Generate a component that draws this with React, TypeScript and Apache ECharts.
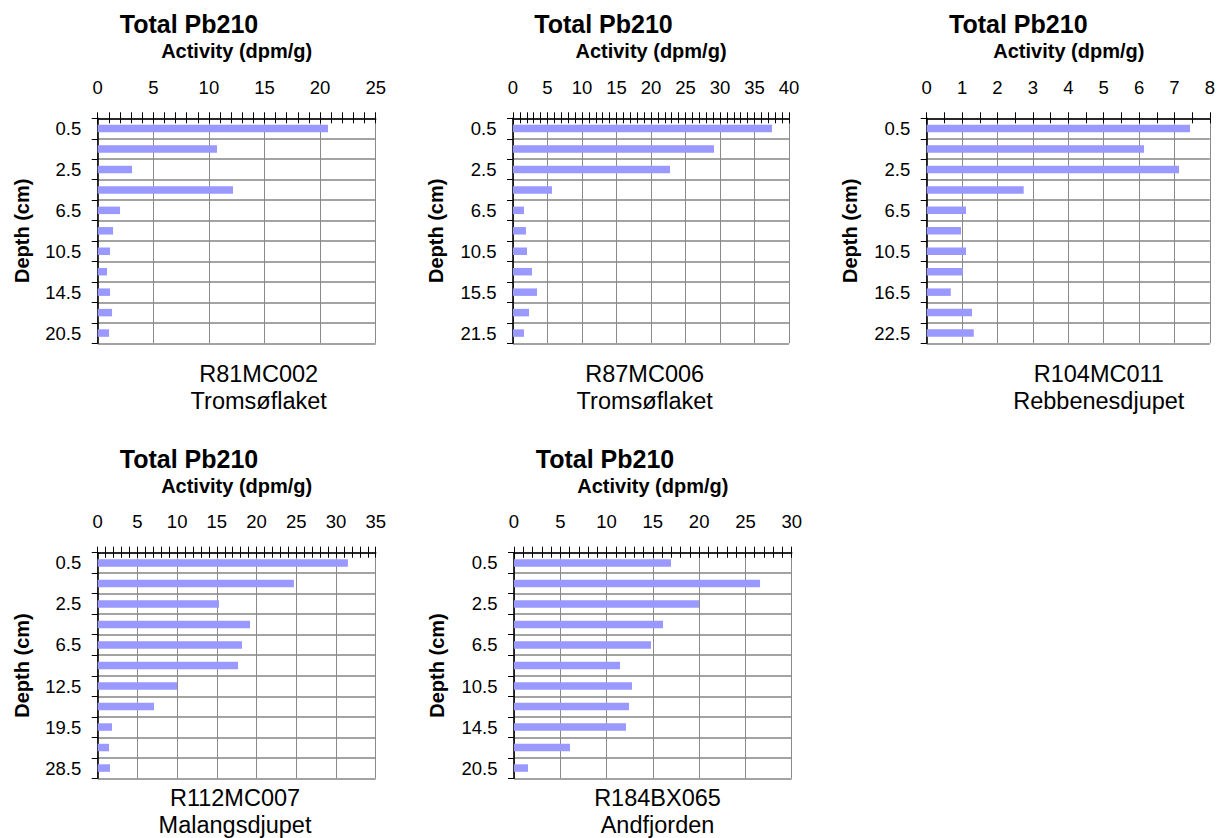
import React, { useEffect, useRef } from "react";
import * as echarts from "echarts";

// Depth labels (every other interval is left unlabelled) and total Pb210 activity (dpm/g)
const r81Depths = ["0.5", "", "2.5", "", "6.5", "", "10.5", "", "14.5", "", "20.5"];
const r81Activity = [20.71, 10.73, 3.09, 12.17, 2.01, 1.38, 1.11, 0.84, 1.11, 1.29, 1.02];

const r87Depths = ["0.5", "", "2.5", "", "6.5", "", "10.5", "", "15.5", "", "21.5"];
const r87Activity = [37.54, 29.13, 22.75, 5.65, 1.59, 1.88, 2.03, 2.75, 3.48, 2.32, 1.59];

const r104Depths = ["0.5", "", "2.5", "", "6.5", "", "10.5", "", "16.5", "", "22.5"];
const r104Activity = [7.44, 6.14, 7.13, 2.74, 1.11, 0.97, 1.11, 1.02, 0.68, 1.28, 1.33];

const r112Depths = ["0.5", "", "2.5", "", "6.5", "", "12.5", "", "19.5", "", "28.5"];
const r112Activity = [31.5, 24.7, 15.27, 19.18, 18.17, 17.67, 9.99, 7.09, 1.8, 1.43, 1.55];

const r184Depths = ["0.5", "", "2.5", "", "6.5", "", "10.5", "", "14.5", "", "20.5"];
const r184Activity = [16.96, 26.58, 19.99, 16.1, 14.8, 11.45, 12.75, 12.42, 12.1, 6.05, 1.51];

// Activity axis ranges: [max, interval, minor splits]
const r81Axis = [25, 5, 5];
const r87Axis = [40, 5, 5];
const r104Axis = [8, 1, 2];
const r112Axis = [35, 5, 5];
const r184Axis = [30, 5, 5];

const coreNames = ["R81MC002", "R87MC006", "R104MC011", "R112MC007", "R184BX065"];
const siteNames = ["Tromsøflaket", "Tromsøflaket", "Rebbenesdjupet", "Malangsdjupet", "Andfjorden"];

const panelData = [
  { depths: r81Depths, values: r81Activity, axis: r81Axis },
  { depths: r87Depths, values: r87Activity, axis: r87Axis },
  { depths: r104Depths, values: r104Activity, axis: r104Axis },
  { depths: r112Depths, values: r112Activity, axis: r112Axis },
  { depths: r184Depths, values: r184Activity, axis: r184Axis },
];

// Placement of each panel on the page (pixels)
const layout = [
  { left: 97.7, top: 118.3, width: 278, height: 225, titleX: 189, depthX: 21.5, coreX: 258.7 },
  { left: 513, top: 118.3, width: 276, height: 225, titleX: 603.5, depthX: 436.3, coreX: 644.7 },
  { left: 926.7, top: 118.3, width: 284.3, height: 225, titleX: 1018.3, depthX: 850.3, coreX: 1098.8 },
  { left: 97.7, top: 552.7, width: 278, height: 225.6, titleX: 189, depthX: 21.5, coreX: 235 },
  { left: 514, top: 552.7, width: 277.7, height: 225.6, titleX: 605, depthX: 436.5, coreX: 657.5 },
];
const coreGap = [30.7, 30.7, 30.7, 20, 20];
const siteGap = [57.8, 57.8, 57.8, 46.5, 46.5];

const FONT = '"Liberation Sans", Arial, Helvetica, sans-serif';
const BAR = "#9999FF";

function buildOption() {
  const grid: any[] = [];
  const xAxis: any[] = [];
  const yAxis: any[] = [];
  const series: any[] = [];
  const graphic: any[] = [];

  panelData.forEach((p, i) => {
    const L = layout[i];
    const [max, interval, minorSplit] = p.axis;
    grid.push({ left: L.left, top: L.top, width: L.width, height: L.height, containLabel: false });

    const baseX = {
      type: "value",
      gridIndex: i,
      position: "top",
      min: 0,
      max,
      interval,
    };
    // main activity axis: labels, outward ticks, vertical grid
    xAxis.push({
      ...baseX,
      axisLine: { show: true, lineStyle: { color: "#000", width: 1.6 } },
      axisTick: { show: true, inside: false, length: 6, lineStyle: { color: "#000", width: 1 } },
      minorTick: { show: true, splitNumber: minorSplit, length: 6, lineStyle: { color: "#000", width: 1 } },
      axisLabel: {
        show: true,
        margin: 31,
        verticalAlign: "middle",
        color: "#000",
        fontFamily: FONT,
        fontSize: 18.5,
      },
      splitLine: { show: true, lineStyle: { color: "#8a8a8a", width: 1 } },
    });
    // companion axis: inward half of the crossing ticks
    xAxis.push({
      ...baseX,
      axisLine: { show: false },
      axisTick: { show: true, inside: true, length: 5, lineStyle: { color: "#000", width: 1 } },
      minorTick: { show: true, splitNumber: minorSplit, length: 5, lineStyle: { color: "#000", width: 1 } },
      axisLabel: { show: false },
      splitLine: { show: false },
    });

    yAxis.push({
      type: "category",
      gridIndex: i,
      inverse: true,
      data: p.depths,
      axisLine: { show: true, lineStyle: { color: "#000", width: 1.6 } },
      axisTick: { show: true, inside: false, length: 6, interval: 0, lineStyle: { color: "#000", width: 1 } },
      axisLabel: {
        show: true,
        interval: 0,
        margin: 16.5,
        align: "right",
        color: "#000",
        fontFamily: FONT,
        fontSize: 18.5,
      },
      splitLine: { show: true, interval: 0, lineStyle: { color: "#a3a3a3", width: 1.8 } },
    });

    series.push({
      type: "bar",
      xAxisIndex: i * 2,
      yAxisIndex: i,
      data: p.values,
      barWidth: 7.5,
      itemStyle: { color: BAR },
      silent: true,
    });

    const cx = L.left + L.width / 2;
    const cy = L.top + L.height / 2;
    graphic.push(
      {
        type: "text",
        x: L.titleX,
        y: L.top - 94,
        style: { text: "Total Pb210", font: `bold 25px ${FONT}`, fill: "#000", align: "center", verticalAlign: "middle" },
      },
      {
        type: "text",
        x: cx,
        y: L.top - 67,
        style: { text: "Activity (dpm/g)", font: `bold 20px ${FONT}`, fill: "#000", align: "center", verticalAlign: "middle" },
      },
      {
        type: "text",
        x: L.depthX,
        y: cy,
        rotation: Math.PI / 2,
        style: { text: "Depth (cm)", font: `bold 20px ${FONT}`, fill: "#000", align: "center", verticalAlign: "middle" },
      },
      {
        type: "text",
        x: L.coreX,
        y: L.top + L.height + coreGap[i],
        style: { text: coreNames[i], font: `23.5px ${FONT}`, fill: "#000", align: "center", verticalAlign: "middle" },
      },
      {
        type: "text",
        x: L.coreX,
        y: L.top + L.height + siteGap[i],
        style: { text: siteNames[i], font: `23.5px ${FONT}`, fill: "#000", align: "center", verticalAlign: "middle" },
      }
    );
  });

  return {
    animation: false,
    backgroundColor: "#fff",
    grid,
    xAxis,
    yAxis,
    series,
    graphic,
  };
}

export default function App() {
  const ref = useRef<HTMLDivElement>(null);
  useEffect(() => {
    if (!ref.current) return;
    const chart = echarts.init(ref.current, undefined, { renderer: "svg" });
    chart.setOption(buildOption() as any);
    return () => chart.dispose();
  }, []);
  return (
    <div
      ref={ref}
      style={{ position: "fixed", left: 0, top: 0, width: 1218, height: 838, background: "#fff" }}
    />
  );
}
